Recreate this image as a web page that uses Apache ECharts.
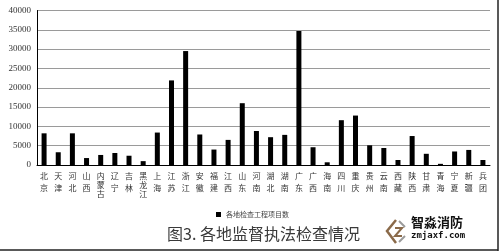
<!DOCTYPE html>
<html><head><meta charset="utf-8">
<script src="https://cdn.jsdelivr.net/npm/echarts@6/dist/echarts.min.js"></script>
<style>html,body{margin:0;padding:0;background:#fff}#c{width:503px;height:252px}</style>
</head><body><div id="c"></div>
<script>
const categories = ['北京','天津','河北','山西','内蒙古','辽宁','吉林','黑龙江','上海','江苏','浙江','安徽','福建','江西','山东','河南','湖北','湖南','广东','广西','海南','四川','重庆','贵州','云南','西藏','陕西','甘肃','青海','宁夏','新疆','兵团'];
const projectCounts = [8200,3300,8200,1800,2600,3100,2400,1000,8400,21900,29500,7900,4000,6500,16000,8800,7200,7800,34700,4600,700,11600,12800,5100,4400,1300,7500,2900,300,3500,3900,1300];
const seriesName = '各地检查工程项目数';
const titleText = '图3. 各地监督执法检查情况';
const yTicks = {min:0, max:40000, interval:5000};

const chart = echarts.init(document.getElementById('c'), null, {renderer:'canvas'});
chart.setOption({
  animation:false,
  backgroundColor:'#fff',
  grid:{left:37, right:13, top:10.5, bottom:87, containLabel:false},
  legend:{show:true, data:[seriesName], left:211, top:206, itemWidth:5, itemHeight:5, itemGap:3,
    icon:'rect', textStyle:{fontSize:7, color:'#444', fontFamily:'Noto Sans CJK SC'}},
  xAxis:{type:'category', data:categories,
    axisLine:{lineStyle:{color:'#000', width:1}}, axisTick:{show:false},
    axisLabel:{interval:0, margin:5, color:'#333', fontFamily:'Noto Sans CJK SC',
      formatter:function(v){
        const ch = v.split('');
        if(ch.length===2) return '{a|'+ch[0]+'}\n{a|'+ch[1]+'}';
        return '{t|'+ch[0]+'}\n{c|'+ch[1]+'}\n{c|'+ch[2]+'}';
      },
      rich:{a:{fontSize:8, lineHeight:12, color:'#333', fontFamily:'Noto Sans CJK SC'},
            t:{fontSize:8, lineHeight:11, color:'#333', fontFamily:'Noto Sans CJK SC'},
            c:{fontSize:8, lineHeight:8.5, color:'#333', fontFamily:'Noto Sans CJK SC'}}}},
  yAxis:{type:'value', min:yTicks.min, max:yTicks.max, interval:yTicks.interval,
    axisLine:{show:true, lineStyle:{color:'#000', width:1}}, axisTick:{show:false},
    axisLabel:{margin:6, fontSize:9, color:'#333', fontFamily:'Liberation Serif',
      formatter:function(v){return String(v);}},
    splitLine:{lineStyle:{color:'#9a9a9a', width:1}}},
  series:[{name:seriesName, type:'bar', data:projectCounts, barWidth:5,
    itemStyle:{color:'#000'}}],
  graphic:[
    {type:'text', left:167, top:226, style:{text:titleText, fontSize:16, fill:'#3a3a3a', fontFamily:'Noto Sans CJK SC'}, z:10},
    {type:'polyline', shape:{points:[[396,220],[387,231],[396,243]]}, style:{stroke:'#8a6a4a', lineWidth:2.5, fill:null}},
    {type:'polyline', shape:{points:[[395,228],[402,228],[395,236],[402,236]]}, style:{stroke:'#8a6a4a', lineWidth:2, fill:null}},
    {type:'polyline', shape:{points:[[399,221],[405,227]]}, style:{stroke:'#9a9a9a', lineWidth:2, fill:null}},
    {type:'polyline', shape:{points:[[405,236],[399,242]]}, style:{stroke:'#9a9a9a', lineWidth:2, fill:null}},
    {type:'text', left:411, top:216, style:{text:'智淼消防', fontSize:13, fontWeight:'bold', fill:'#111', fontFamily:'Noto Sans CJK SC'}},
    {type:'text', left:411, top:231, style:{text:'zmjaxf.com', fontSize:9, fontWeight:'bold', fill:'#111', fontFamily:'DejaVu Sans Mono'}},
    {type:'line', shape:{x1:498, y1:0, x2:498, y2:251}, style:{stroke:'#222', lineWidth:1.5}},
    {type:'line', shape:{x1:0, y1:250, x2:498, y2:250}, style:{stroke:'#222', lineWidth:1.5}}
  ]
});
</script></body></html>
